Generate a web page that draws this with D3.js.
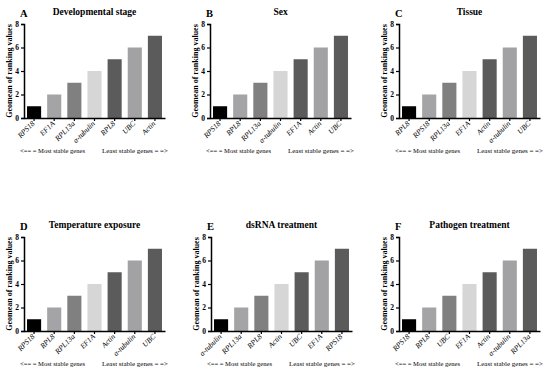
<!DOCTYPE html>
<html>
<head>
<meta charset="utf-8">
<script src="https://cdn.jsdelivr.net/npm/d3@7"></script>
<style>
  body { margin: 0; background: #fff; }
  svg text { font-family: "Liberation Serif", "Times New Roman", serif; }
</style>
</head>
<body>
<div id="chart"></div>
<script>
var svgWidth = 550;
var svgHeight = 371;

// chart data
var letters = ["A", "B", "C", "D", "E", "F"];
var titles = ["Developmental stage", "Sex", "Tissue", "Temperature  exposure", "dsRNA treatment", "Pathogen treatment"];
var genesA = ["RPS18", "EF1A", "RPL13a", "α-tubulin", "RPL8", "UBC", "Actin"];
var genesB = ["RPS18", "RPL8", "RPL13a", "α-tubulin", "EF1A", "Actin", "UBC"];
var genesC = ["RPL8", "RPS18", "RPL13a", "EF1A", "Actin", "α-tubulin", "UBC"];
var genesD = ["RPS18", "RPL8", "RPL13a", "EF1A", "Actin", "α-tubulin", "UBC"];
var genesE = ["α-tubulin", "RPL13a", "RPL8", "Actin", "UBC", "EF1A", "RPS18"];
var genesF = ["RPS18", "RPL8", "UBC", "EF1A", "Actin", "α-tubulin", "RPL13a"];
var geomean = [1, 2, 3, 4, 5, 6, 7];
var yTicks = [0, 2, 4, 6, 8];
var barColors = ["#000000", "#a4a4a6", "#808080", "#d6d6d6", "#5b5b5b", "#a2a2a4", "#5b5b5b"];

var geneLists = [genesA, genesB, genesC, genesD, genesE, genesF];

// panel placement (axis origin x, top y)
var panelX = [24, 210, 399, 24, 211, 399];
var panelY = [24, 24, 24, 237, 237, 237];
var width = 141;
var height = 94;

var svg = d3.select("#chart")
    .append("svg")
    .attr("width", svgWidth)
    .attr("height", svgHeight);

letters.forEach(function (letter, i) {
    var genes = geneLists[i];
    var data = genes.map(function (g, j) { return { gene: g, value: geomean[j], idx: j }; });

    var g = svg.append("g")
        .attr("transform", `translate(${panelX[i]}, ${panelY[i]})`);

    var x = d3.scaleBand()
        .domain(genes)
        .range([0, width])
        .paddingInner(0.3)
        .paddingOuter(0.15);

    var y = d3.scaleLinear()
        .domain([0, 8])
        .range([height, 0]);

    g.selectAll("rect")
        .data(data)
        .enter()
        .append("rect")
        .attr("x", d => x(d.gene))
        .attr("y", d => y(d.value))
        .attr("width", x.bandwidth())
        .attr("height", d => y(0) - y(d.value))
        .attr("fill", d => barColors[d.idx]);

    var leftAxis = d3.axisLeft(y).tickValues(yTicks).tickSize(3).tickPadding(2);
    var yAxis = g.append("g").call(leftAxis);
    yAxis.select(".domain").attr("stroke-width", 1.5);
    yAxis.selectAll("line").attr("stroke-width", 1.2);
    yAxis.selectAll("text")
        .style("font-size", "7.5px")
        .style("font-weight", "bold");

    var bottomAxis = d3.axisBottom(x).tickSize(3).tickSizeOuter(0).tickFormat("");
    var xAxis = g.append("g")
        .attr("transform", `translate(0, ${height})`)
        .call(bottomAxis);
    xAxis.select(".domain").attr("stroke-width", 1.5);
    xAxis.selectAll("line").attr("stroke-width", 1.2);

    // rotated gene labels (CSS transform)
    g.selectAll(".gene-label")
        .data(genes)
        .enter()
        .append("text")
        .attr("class", "gene-label")
        .attr("text-anchor", "end")
        .style("transform-box", "view-box")
        .style("transform-origin", "0 0")
        .style("transform", d => `translate(${x(d) + x.bandwidth() / 2 + 1}px, ${height + 6}px) rotate(-45deg)`)
        .style("font-size", "7.5px")
        .style("font-style", "italic")
        .text(d => d);

    // y label
    g.append("text")
        .attr("transform", "rotate(-90)")
        .attr("x", -height / 2)
        .attr("y", -12)
        .attr("text-anchor", "middle")
        .style("font-size", "8px")
        .style("font-weight", "bold")
        .text("Geomean of ranking values");

    // title + letter
    g.append("text")
        .attr("x", width / 2)
        .attr("y", -9)
        .attr("text-anchor", "middle")
        .style("font-size", "9.5px")
        .style("font-weight", "bold")
        .text(titles[i]);

    g.append("text")
        .attr("x", -4)
        .attr("y", -7)
        .style("font-size", "10.5px")
        .style("font-weight", "bold")
        .text(letter);

    // stability notes under axis
    g.append("text")
        .attr("x", -4)
        .attr("y", height + 35)
        .attr("textLength", 65)
        .attr("lengthAdjust", "spacingAndGlyphs")
        .style("font-size", "7px")
        .text("<== = Most stable genes");

    g.append("text")
        .attr("x", 78)
        .attr("y", height + 35)
        .attr("textLength", 66)
        .attr("lengthAdjust", "spacingAndGlyphs")
        .style("font-size", "7px")
        .text("Least stable genes = =>");
});
</script>
</body>
</html>
